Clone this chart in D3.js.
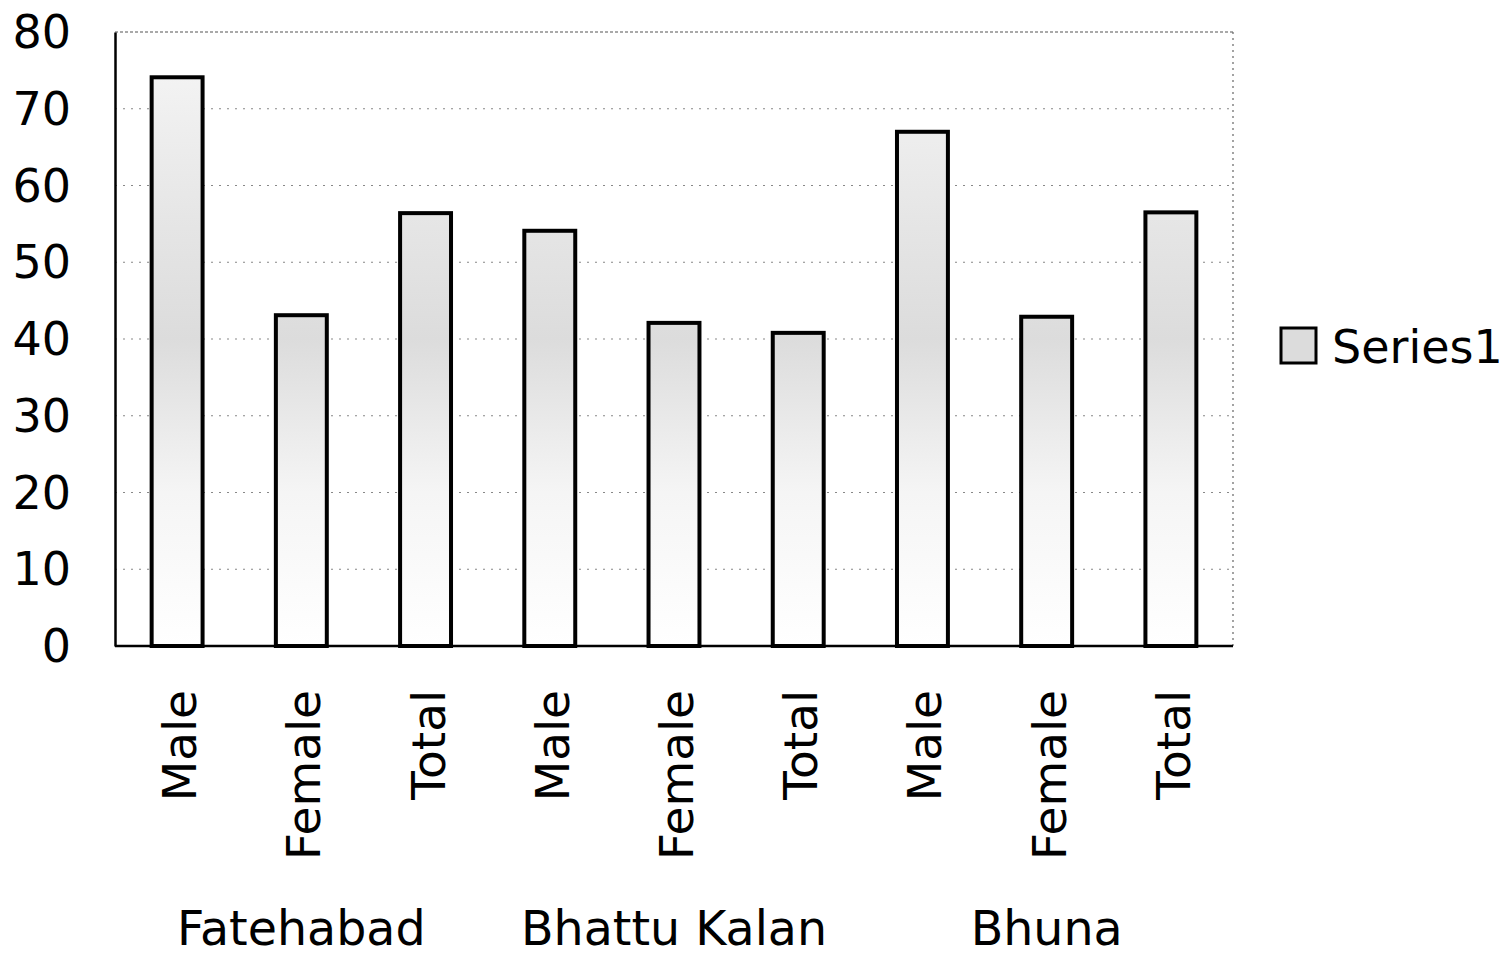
<!DOCTYPE html>
<html>
<head>
<meta charset="utf-8">
<title>Series1</title>
<script src="https://d3js.org/d3.v7.min.js"></script>
<style>
  body { margin: 0; background: #fff; }
  svg { display: block; font-family: "DejaVu Sans", Verdana, sans-serif; }
</style>
</head>
<body>
<div id="vis"></div>
<script>
// data
const groups = ["Fatehabad", "Bhattu Kalan", "Bhuna"];
const subcats = ["Male", "Female", "Total"];
const values = [74.1, 43.1, 56.4, 54.1, 42.1, 40.8, 67.0, 42.9, 56.5];
const yTicks = [0, 10, 20, 30, 40, 50, 60, 70, 80];

const W = 1510, H = 958;
const plotL = 115, plotR = 1233, plotT = 32, plotB = 646;

const rows = [];
groups.forEach((g, gi) => subcats.forEach((s, si) => {
  rows.push({ key: g + "|" + s, group: g, label: s, value: values[gi * 3 + si] });
}));

const svg = d3.select("#vis").append("svg")
  .attr("width", W).attr("height", H);

const x = d3.scaleBand().domain(rows.map(d => d.key))
  .range([plotL, plotR]).paddingInner(0.59).paddingOuter(0.295);
const y = d3.scaleLinear().domain([0, 80]).range([plotB, plotT]);

// shading for bars (gray speckle look approximated by gradient)
const defs = svg.append("defs");
const grad = defs.append("linearGradient").attr("id", "barfill")
  .attr("gradientUnits", "userSpaceOnUse")
  .attr("x1", 0).attr("x2", 0).attr("y1", y(0)).attr("y2", y(80));
grad.append("stop").attr("offset", "0%").attr("stop-color", "#ffffff");
grad.append("stop").attr("offset", "25%").attr("stop-color", "#f5f5f5");
grad.append("stop").attr("offset", "50%").attr("stop-color", "#dcdcdc");
grad.append("stop").attr("offset", "70%").attr("stop-color", "#e6e6e6");
grad.append("stop").attr("offset", "100%").attr("stop-color", "#f7f7f7");

// gridlines
svg.append("g")
  .selectAll("line")
  .data(yTicks.filter(t => t > 0))
  .join("line")
  .attr("x1", plotL).attr("x2", plotR)
  .attr("y1", d => y(d)).attr("y2", d => y(d))
  .attr("stroke", d => d === 80 ? "#555" : "#888")
  .attr("stroke-width", 1.2)
  .attr("stroke-dasharray", d => d === 80 ? "3,2" : "2,6");

// right border (dotted)
svg.append("line")
  .attr("x1", plotR).attr("x2", plotR).attr("y1", plotT).attr("y2", plotB)
  .attr("stroke", "#666").attr("stroke-width", 1.2).attr("stroke-dasharray", "2,4");

// bars
svg.append("g")
  .selectAll("rect")
  .data(rows)
  .join("rect")
  .attr("x", d => x(d.key))
  .attr("y", d => y(d.value))
  .attr("width", x.bandwidth())
  .attr("height", d => y(0) - y(d.value))
  .attr("fill", "url(#barfill)")
  .attr("stroke", "#000")
  .attr("stroke-width", 4);

// y axis
const yAxis = svg.append("g")
  .attr("transform", `translate(${plotL},0)`)
  .call(d3.axisLeft(y).tickValues(yTicks).tickSize(0).tickPadding(44));
yAxis.select(".domain").attr("stroke", "#000").attr("stroke-width", 2.5);
yAxis.selectAll("text")
  .attr("font-size", 46).attr("fill", "#000")
  .attr("font-family", "'DejaVu Sans', Verdana, sans-serif")
  .attr("text-anchor", "end")
  .attr("dy", "0.34em");

// x baseline
svg.append("line")
  .attr("x1", plotL).attr("x2", plotR).attr("y1", y(0)).attr("y2", y(0))
  .attr("stroke", "#000").attr("stroke-width", 2.5);

// category labels (rotated)
svg.append("g")
  .selectAll("text")
  .data(rows)
  .join("text")
  .attr("transform", d => `translate(${x(d.key) + x.bandwidth() / 2 + 19},690) rotate(-90)`)
  .attr("text-anchor", "end")
  .attr("font-size", 47)
  .attr("fill", "#000")
  .text(d => d.label);

// group labels
svg.append("g")
  .selectAll("text")
  .data(groups)
  .join("text")
  .attr("x", (g, i) => x(g + "|" + subcats[1]) + x.bandwidth() / 2)
  .attr("y", 945)
  .attr("text-anchor", "middle")
  .attr("font-size", 47.5)
  .attr("fill", "#000")
  .text(d => d);

// legend
const lg = svg.append("g").attr("transform", "translate(1281,328)");
lg.append("rect").attr("width", 35).attr("height", 35)
  .attr("fill", "#dcdcdc").attr("stroke", "#000").attr("stroke-width", 3);
lg.append("text").attr("x", 51).attr("y", 35)
  .attr("font-size", 46).attr("fill", "#000").text("Series1");
</script>
</body>
</html>
